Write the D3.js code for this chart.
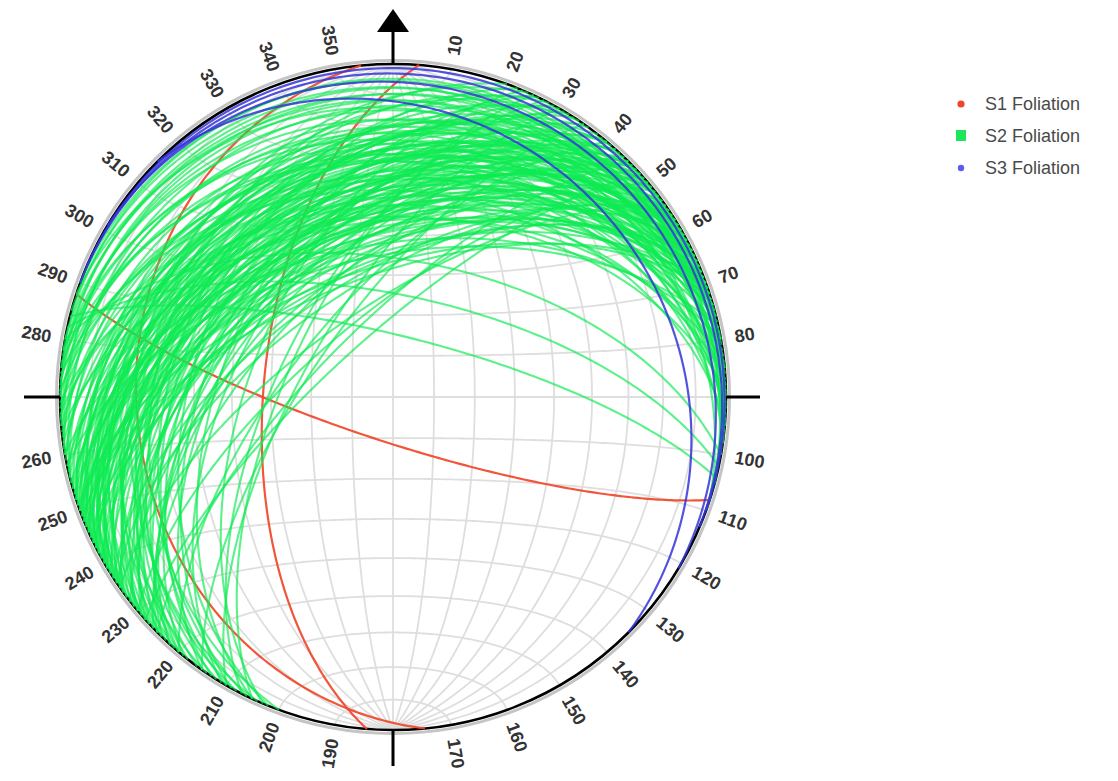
<!DOCTYPE html>
<html><head><meta charset="utf-8">
<script src="https://cdn.jsdelivr.net/npm/d3@7"></script>
<style>body{margin:0;background:#fff}svg{display:block}</style>
</head><body>
<svg id="chart" width="1118" height="781"></svg>
<script>
// ---- data: planes as [strike (right-hand rule), dip] ----
const s1Planes = [[108,79],[174.5,24],[184.5,58]];
const s2Planes = [
 [218,35],[220,42],[221,28],[222,50],[223,38],[224,31],[225,45],[225,55],[226,40],[227,33],
 [228,48],[228,26],[229,52],[230,37],[230,44],[231,29],[232,58],[232,41],[233,35],[234,47],
 [234,24],[235,39],[235,53],[236,31],[237,44],[237,60],[238,36],[238,27],[239,49],[240,42],
 [240,33],[241,55],[241,38],[242,46],[242,29],[243,51],[243,35],[244,40],[244,25],[245,57],
 [245,43],[246,32],[246,48],[247,37],[247,53],[248,28],[248,45],[249,39],[249,60],[250,34],
 [250,50],[251,42],[251,26],[252,47],[252,37],[226,59],[231,50],[236,62],[239,30],[241,22],
 [244,58],[233,27],[227,44],[229,36],[222,46],[224,53],[220,34],[219,48],[247,30],[250,55],
 [236,45],[238,52],[240,48],[242,38],[244,47],[246,41],[248,52],[250,44],[252,31],[254,43],
 [256,38],[237,34],[239,41],[243,44],[245,36],[249,47],[251,58],[253,50],
 [253,40],[254,30],[255,48],[256,22],[257,35],[258,44],[259,27],[260,52],[260,33],[261,18],
 [262,40],[263,28],[264,46],[265,35],[266,20],[267,42],[268,30],[269,45],[270,25],[271,34],
 [272,15],[273,28],[274,38],[275,22],[276,30],[277,18],[278,24],[258,55],
 [200,30],[202,40],[203,55],[204,25],[205,48],[206,35],[207,62],[208,28],[209,45],[210,38],
 [211,52],[212,32],[213,42],[214,24],[215,50],[216,36],
 [230,70],[225,72],[235,68],[228,75],[220,66],[215,70],[210,68],[205,64],
 [282,65],[284,75],[280,56],
 [280,12],[285,8],[275,10],[290,6],[270,8],[265,12],[260,10],[255,14],[288,15],[278,5]
];
const s3Planes = [[315,17],[301,7],[293,3.5],[290,1.5]];
const seriesNames = ["S1 Foliation","S2 Foliation","S3 Foliation"];
const azimuthLabels = [10,20,30,40,50,60,70,80,100,110,120,130,140,150,160,170,
                       190,200,210,220,230,240,250,260,280,290,300,310,320,330,340,350];
const gridDips = [10,20,30,40,50,60,70,80];
const gridConeAngles = [10,20,30,40,50,60,70,80,90,100,110,120,130,140,150,160,170];

// ---- layout ----
const cx = 393, cy = 397, R = 333;
const rad = Math.PI/180;
const svg = d3.select("#chart");
const g = svg.append("g").attr("transform", `translate(${cx},${cy})`);

// equal-area (Schmidt) lower hemisphere: r = R*sqrt(1 - sin(plunge))
const rScale = d3.scaleSqrt().domain([0,1]).range([0,R]);
const radial = d3.lineRadial()
  .angle(d => d[0]*rad)
  .radius(d => rScale(Math.max(0, 1 - Math.sin(d[1]*rad))));

function toTrendPlunge(n,e,dn){
  const p = Math.asin(Math.max(-1,Math.min(1,dn)))/rad;
  const t = Math.atan2(e,n)/rad;
  return [t,p];
}
function greatCircle(strike, dip){
  const s = strike*rad, dd = (strike+90)*rad, d = dip*rad;
  const S = [Math.cos(s), Math.sin(s), 0];
  const D = [Math.cos(d)*Math.cos(dd), Math.cos(d)*Math.sin(dd), Math.sin(d)];
  return d3.range(0, 180.5, 1).map(a => {
    const ca = Math.cos(a*rad), sa = Math.sin(a*rad);
    return toTrendPlunge(ca*S[0]+sa*D[0], ca*S[1]+sa*D[1], ca*S[2]+sa*D[2]);
  });
}
function smallCircleNS(theta){
  const th = theta*rad;
  return d3.range(0, 180.5, 1).map(f => {
    const fr = f*rad;
    return toTrendPlunge(Math.cos(th), Math.sin(th)*Math.cos(fr), Math.sin(th)*Math.sin(fr));
  });
}

// ---- grid ----
const gridG = g.append("g").attr("fill","none").attr("stroke","#dedede").attr("stroke-width",1.8);
gridDips.forEach(dp => {
  gridG.append("path").attr("d", radial(greatCircle(0, dp)));
  gridG.append("path").attr("d", radial(greatCircle(180, dp)));
});
gridG.append("path").attr("d", radial(greatCircle(0, 90)));
gridConeAngles.forEach(th => gridG.append("path").attr("d", radial(smallCircleNS(th))));

// ---- primitive ----
g.append("circle").attr("r", R+3.5).attr("fill","none").attr("stroke","#c4c4c4").attr("stroke-width",3);
g.append("circle").attr("r", R).attr("fill","none").attr("stroke","#000").attr("stroke-width",2.6);

// ---- great circles ----
const series = [
  {planes:s1Planes, color:"#f0482a", opacity:0.92, width:2.2},
  {planes:s2Planes, color:"#0fea52", opacity:0.68, width:2.1},
  {planes:s3Planes, color:"#3535d8", opacity:0.85, width:2.2}
];
series.forEach(sr => {
  g.append("g").selectAll("path").data(sr.planes).join("path")
    .attr("d", p => radial(greatCircle(p[0], p[1])))
    .attr("fill","none").attr("stroke", sr.color)
    .attr("stroke-opacity", sr.opacity).attr("stroke-width", sr.width);
});

// ---- cardinal ticks and north arrow ----
const axG = g.append("g").attr("stroke","#000").attr("stroke-width",3);
axG.append("line").attr("x1",0).attr("y1",-R).attr("x2",0).attr("y2",-R-34);
axG.append("line").attr("x1",0).attr("y1",R).attr("x2",0).attr("y2",R+36);
axG.append("line").attr("x1",-R).attr("y1",0).attr("x2",-R-36).attr("y2",0);
axG.append("line").attr("x1",R).attr("y1",0).attr("x2",R+34).attr("y2",0);
g.append("path").attr("d", `M0,${-R-55}L${-16},${-R-32}L16,${-R-32}Z`).attr("fill","#000");

// ---- azimuth labels ----
const labelR = 347;
g.append("g").selectAll("text").data(azimuthLabels).join("text")
  .attr("transform", a => {
    const x = labelR*Math.sin(a*rad), y = -labelR*Math.cos(a*rad);
    const rot = a < 180 ? a-90 : a-270;
    return `translate(${x},${y}) rotate(${rot})`;
  })
  .attr("text-anchor", a => a < 180 ? "start" : "end")
  .attr("dominant-baseline","central")
  .attr("font-family","'Liberation Sans', Arial, sans-serif")
  .attr("font-weight","bold").attr("font-size",18).attr("fill","#333")
  .text(a => a);

// ---- legend ----
const legendColors = ["#f0432a","#1ee65a","#5b5bee"];
const lg = svg.append("g").attr("transform","translate(961,104)");
seriesNames.forEach((nm,i) => {
  const row = lg.append("g").attr("transform", `translate(0,${i*32})`);
  if (i === 1) row.append("rect").attr("x",-5).attr("y",-6).attr("width",10).attr("height",11).attr("fill",legendColors[i]);
  else row.append("circle").attr("r", i===0?3.6:3.2).attr("fill",legendColors[i]);
  row.append("text").attr("x",24).attr("y",0).attr("dominant-baseline","central")
    .attr("font-family","'Liberation Sans', Arial, sans-serif").attr("font-size",18)
    .attr("fill","#4a4a4a").text(nm);
});
</script>
</body></html>
